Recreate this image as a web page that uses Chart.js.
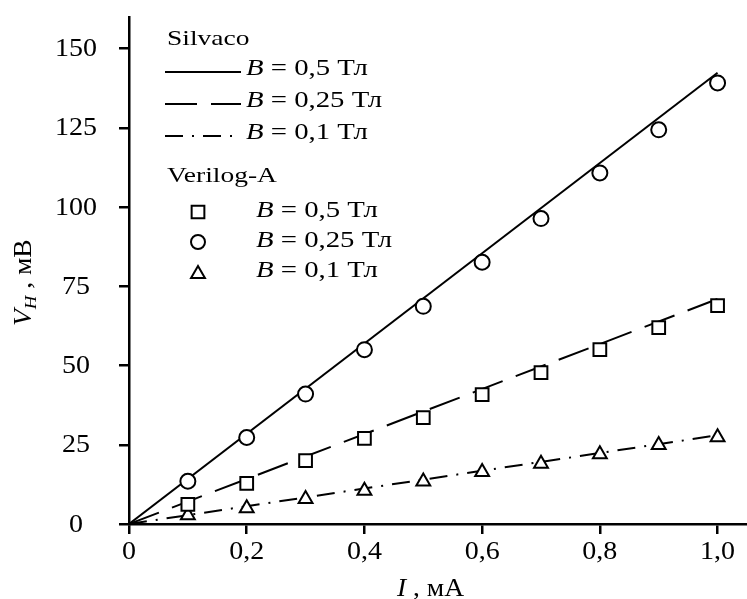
<!DOCTYPE html>
<html><head><meta charset="utf-8">
<script src="https://cdn.jsdelivr.net/npm/chart.js@4/dist/chart.umd.min.js"></script>
<style>html,body{margin:0;padding:0;background:#fff}#wrap{width:747px;height:599px}</style>
</head><body><div id="wrap"><canvas id="c" width="747" height="599"></canvas></div>
<script>
// ---- data ----
const currentMA = [0.1, 0.2, 0.3, 0.4, 0.5, 0.6, 0.7, 0.8, 0.9, 1.0];
const verilogCircle = [13.5, 27.3, 41, 55, 68.7, 82.6, 96.4, 110.8, 124.4, 139.2];
const verilogSquare = [6.2, 12.8, 20, 27, 33.6, 40.8, 47.8, 55, 62, 68.9];
const verilogTriangle = [2.8, 5, 7.9, 10.5, 13.4, 16.4, 19, 22, 24.9, 27.4];
const silvacoX = [0, 1.0];
const silvacoSolid = [0, 142.4];
const silvacoDashed = [0, 71];
const silvacoDashDot = [0, 28];
const xTicks = [0, 0.2, 0.4, 0.6, 0.8, 1.0];
const yTicks = [0, 25, 50, 75, 100, 125, 150];

const SERIF = '"Liberation Serif", "Times New Roman", serif';
const pts = (xs, ys) => xs.map((x, i) => ({x: x, y: ys[i]}));

function lineDs(ys, dash) {
  return {type: 'line', data: pts(silvacoX, ys), borderColor: '#000', borderWidth: 2,
    borderDash: dash, pointRadius: 0, fill: false, tension: 0, order: 2};
}
function markDs(ys, style, r) {
  return {type: 'scatter', data: pts(currentMA, ys), pointStyle: style, pointRadius: r,
    pointBorderWidth: 2, borderColor: '#000', backgroundColor: '#fff', pointBackgroundColor: '#fff',
    pointBorderColor: '#000', order: 1};
}
const DASH = [32, 14];
const DASHDOT = [18, 9, 2, 9];

function drawRich(ctx, parts, x, y, sx) {
  ctx.save();
  ctx.translate(x, y);
  ctx.scale(sx, 1);
  let cx = 0;
  for (const p of parts) {
    ctx.font = (p.italic ? 'italic ' : '') + p.size + 'px ' + SERIF;
    ctx.fillText(p.t, cx, p.dy || 0);
    cx += ctx.measureText(p.t).width;
  }
  ctx.restore();
}
function bLabel(val) {
  return [{t: 'B', italic: true, size: 23}, {t: ' = ' + val + ' Тл', size: 23}];
}
const fmt = v => v === 0 ? '0' : Number(v).toFixed(1).replace('.', ',');

function drawCentered(ctx, text, x, y, size, sx) {
  ctx.save();
  ctx.translate(x, y);
  ctx.scale(sx, 1);
  ctx.font = size + 'px ' + SERIF;
  ctx.textAlign = 'center';
  ctx.textBaseline = 'middle';
  ctx.fillText(text, 0, 0);
  ctx.restore();
}

const overlay = {
  id: 'overlay',
  afterDraw(chart) {
    const ctx = chart.ctx;
    ctx.save();
    ctx.fillStyle = '#000';
    ctx.strokeStyle = '#000';
    ctx.textBaseline = 'alphabetic';
    ctx.textAlign = 'left';
    // tick labels, positioned by the chart's own scales
    const xs = chart.scales.x, ys = chart.scales.y;
    for (const v of xTicks) drawCentered(ctx, fmt(v), xs.getPixelForValue(v), 552, 25, 1.12);
    for (const v of yTicks) drawCentered(ctx, String(v), 76, ys.getPixelForValue(v) + 1, 25, 1.12);
    const SX = 1.25;
    // legend
    drawRich(ctx, [{t: 'Silvaco', size: 22}], 167, 45, SX);
    const rows = [[72, [], '0,5'], [104, DASH, '0,25'], [136, DASHDOT, '0,1']];
    for (const [yy, dash, v] of rows) {
      ctx.save();
      ctx.lineWidth = 2;
      ctx.setLineDash(dash);
      ctx.beginPath(); ctx.moveTo(165, yy); ctx.lineTo(241, yy); ctx.stroke();
      ctx.restore();
      drawRich(ctx, bLabel(v), 246, yy + 3, SX);
    }
    drawRich(ctx, [{t: 'Verilog-A', size: 22}], 167, 182, SX);
    const mrows = [[212, 'rect', 9, '0,5'], [242, 'circle', 7, '0,25'], [272, 'triangle', 8, '0,1']];
    for (const [yy, st, r, v] of mrows) {
      ctx.save();
      ctx.lineWidth = 2; ctx.fillStyle = '#fff'; ctx.strokeStyle = '#000';
      Chart.helpers.drawPoint(ctx, {pointStyle: st, radius: r, borderWidth: 2, rotation: 0}, 198, st === 'triangle' ? yy + 2 : yy);
      ctx.restore();
      ctx.fillStyle = '#000';
      drawRich(ctx, bLabel(v), 256, yy + 5, SX);
    }
    // y title
    ctx.save();
    ctx.translate(31, 326);
    ctx.rotate(-Math.PI / 2);
    drawRich(ctx, [{t: 'V', italic: true, size: 25}, {t: 'H', italic: true, size: 17, dy: 5}, {t: ' , мВ', size: 25}], 0, 0, 1.1);
    ctx.restore();
    // x title
    drawRich(ctx, [{t: 'I', italic: true, size: 25}, {t: ' , мА', size: 25}], 397, 596, 1.1);
    ctx.restore();
  }
};

new Chart(document.getElementById('c'), {
  data: {datasets: [
    markDs(verilogSquare, 'rect', 9),
    markDs(verilogCircle, 'circle', 7.5),
    markDs(verilogTriangle, 'triangle', 8),
    lineDs(silvacoSolid, []),
    lineDs(silvacoDashed, DASH),
    lineDs(silvacoDashDot, DASHDOT)
  ]},
  options: {
    responsive: false, animation: false,
    layout: {autoPadding: false, padding: {top: 17, right: 0, left: 0, bottom: 0}},
    plugins: {legend: {display: false}, tooltip: {enabled: false}},
    scales: {
      x: {type: 'linear', min: 0, max: 1.05,
        afterBuildTicks: s => { s.ticks = xTicks.map(v => ({value: v})); },
        afterFit: s => { s.height = 75; s.paddingLeft = 0; s.paddingRight = 0; },
        border: {display: true, color: '#000', width: 2.5},
        grid: {display: true, drawOnChartArea: false, drawTicks: true, tickLength: 10, color: '#000', lineWidth: 2.5},
        ticks: {display: false}
      },
      y: {type: 'linear', min: 0, max: 160,
        afterBuildTicks: s => { s.ticks = yTicks.map(v => ({value: v})); },
        afterFit: s => { s.width = 129; s.paddingTop = 0; s.paddingBottom = 0; },
        border: {display: true, color: '#000', width: 2.5},
        grid: {display: true, drawOnChartArea: false, drawTicks: true, tickLength: 10, color: '#000', lineWidth: 2.5},
        ticks: {display: false}
      }
    }
  },
  plugins: [overlay]
});
</script></body></html>
